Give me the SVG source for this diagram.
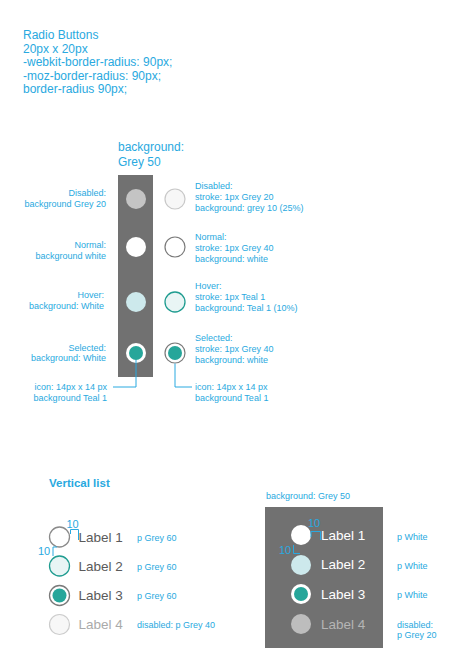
<svg xmlns="http://www.w3.org/2000/svg" width="468" height="668" viewBox="0 0 468 668">
<style>
text{font-family:"Liberation Sans",Arial,sans-serif;fill:#29a9e0}
.t12{font-size:12px}
.t9{font-size:9px}
.end{text-anchor:end}
.dim{font-size:11px}
.lbl{font-size:13.5px;fill:#5a5a5a}
.lblw{font-size:13.5px;fill:#ffffff}
.conn{fill:none;stroke:#29a9e0;stroke-width:1}
.panel{fill:#717171}
.teal{fill:#26a69a}
</style>
<rect width="468" height="668" fill="#ffffff"/>

<g id="title">
<text class="t12" x="23" y="39">Radio Buttons</text>
<text class="t12" x="23" y="52.5">20px x 20px</text>
<text class="t12" x="23" y="66">-webkit-border-radius: 90px;</text>
<text class="t12" x="23" y="79.5">-moz-border-radius: 90px;</text>
<text class="t12" x="23" y="93">border-radius 90px;</text>
</g>

<g id="column">
<text class="t12" x="118" y="151">background:</text>
<text class="t12" x="118" y="166">Grey 50</text>
<rect class="panel" x="118" y="175" width="35" height="202"/>
</g>

<g id="col-disabled">
<circle cx="136" cy="199" r="10" fill="#c4c4c4"/>
<text class="t9 end" x="106" y="196">Disabled:</text>
<text class="t9 end" x="106" y="207">background Grey 20</text>
</g>
<g id="col-normal">
<circle cx="136" cy="247" r="10" fill="#ffffff"/>
<text class="t9 end" x="106" y="248">Normal:</text>
<text class="t9 end" x="106" y="259">background white</text>
</g>
<g id="col-hover">
<circle cx="136" cy="302" r="10" fill="#cde9ec"/>
<text class="t9 end" x="104" y="298">Hover:</text>
<text class="t9 end" x="104" y="309">background: White</text>
</g>
<g id="col-selected">
<circle cx="136" cy="353" r="10" fill="#ffffff"/>
<circle class="teal" cx="136" cy="353" r="7"/>
<text class="t9 end" x="106" y="351">Selected:</text>
<text class="t9 end" x="106" y="361">background: White</text>
</g>
<g id="col-icon-note">
<text class="t9 end" x="107" y="390">icon: 14px x 14 px</text>
<text class="t9 end" x="107" y="400.5">background Teal 1</text>
</g>

<g id="r-disabled">
<circle cx="175" cy="199" r="10" fill="#f7f7f7" stroke="#c8c8c8" stroke-width="1.2"/>
<text class="t9" x="195" y="189">Disabled:</text>
<text class="t9" x="195" y="200">stroke: 1px Grey 20</text>
<text class="t9" x="195" y="211">background: grey 10 (25%)</text>
</g>
<g id="r-normal">
<circle cx="175" cy="247" r="10" fill="#ffffff" stroke="#7a7a7a" stroke-width="1.2"/>
<text class="t9" x="195" y="240">Normal:</text>
<text class="t9" x="195" y="251">stroke: 1px Grey 40</text>
<text class="t9" x="195" y="261.5">background: white</text>
</g>
<g id="r-hover">
<circle cx="175" cy="302" r="10" fill="#e9f5f5" stroke="#1f9c90" stroke-width="1.3"/>
<text class="t9" x="195" y="289">Hover:</text>
<text class="t9" x="195" y="300">stroke: 1px Teal 1</text>
<text class="t9" x="195" y="311">background: Teal 1 (10%)</text>
</g>
<g id="r-selected">
<circle cx="175" cy="353" r="10" fill="#ffffff" stroke="#7a7a7a" stroke-width="1.2"/>
<circle class="teal" cx="175" cy="353" r="7"/>
<text class="t9" x="195" y="341">Selected:</text>
<text class="t9" x="195" y="352">stroke: 1px Grey 40</text>
<text class="t9" x="195" y="362.5">background: white</text>
</g>
<g id="r-icon-note">
<text class="t9" x="195" y="390">icon: 14px x 14 px</text>
<text class="t9" x="195" y="400.5">background Teal 1</text>
</g>

<g id="vlist-title">
<text x="49" y="487" style="font-size:11.5px;font-weight:bold">Vertical list</text>
</g>

<g id="list-1">
<circle cx="59.5" cy="537" r="10" fill="#ffffff" stroke="#8a8a8a" stroke-width="1.3"/>
<text class="lbl" x="78.5" y="541.5">Label 1</text>
<text class="t9" x="137" y="540.5">p Grey 60</text>
</g>
<g id="list-2">
<circle cx="59.5" cy="566" r="10" fill="#e8f5f5" stroke="#1f9c90" stroke-width="1.3"/>
<text class="lbl" x="78.5" y="570.5">Label 2</text>
<text class="t9" x="137" y="569.5">p Grey 60</text>
</g>
<g id="list-3">
<circle cx="59.5" cy="595.5" r="10" fill="#ffffff" stroke="#7a7a7a" stroke-width="1.3"/>
<circle class="teal" cx="59.5" cy="595.5" r="7"/>
<text class="lbl" x="78.5" y="600">Label 3</text>
<text class="t9" x="137" y="599">p Grey 60</text>
</g>
<g id="list-4">
<circle cx="59.5" cy="624.5" r="10" fill="#f7f7f7" stroke="#cccccc" stroke-width="1.2"/>
<text class="lbl" x="78.5" y="629" style="fill:#aaaaaa">Label 4</text>
<text class="t9" x="137" y="628">disabled: p Grey 40</text>
</g>
<g id="list-dims">
<text class="dim" x="66.5" y="527.5">10</text>
<text class="dim" x="38" y="555">10</text>
</g>

<g id="panel">
<text class="t9" x="266" y="499">background: Grey 50</text>
<rect class="panel" x="265" y="507" width="118" height="141"/>
</g>
<g id="panel-1">
<circle cx="301" cy="535" r="10" fill="#ffffff"/>
<text class="lblw" x="321" y="540">Label 1</text>
<text class="t9" x="397" y="540">p White</text>
</g>
<g id="panel-2">
<circle cx="301" cy="565" r="10" fill="#cde9ec"/>
<text class="lblw" x="321" y="569">Label 2</text>
<text class="t9" x="397" y="569">p White</text>
</g>
<g id="panel-3">
<circle cx="301" cy="594" r="10" fill="#ffffff"/>
<circle class="teal" cx="301" cy="594" r="7"/>
<text class="lblw" x="321" y="598.5">Label 3</text>
<text class="t9" x="397" y="598">p White</text>
</g>
<g id="panel-4">
<circle cx="301" cy="624" r="10" fill="#bdbdbd"/>
<text class="lblw" x="321" y="628.5" style="fill:#b5b5b5">Label 4</text>
<text class="t9" x="397" y="627.5">disabled:</text>
<text class="t9" x="397" y="638">p Grey 20</text>
</g>
<g id="panel-dims">
<text class="dim" x="308" y="527">10</text>
<text class="dim" x="279" y="553.5">10</text>
</g>

<g id="connectors">
<path class="conn" d="M136 360 V387 H113"/>
<path class="conn" d="M175 363.5 V387 H192"/>
<path class="conn" d="M70.5 534 V529.5 H78.5 V540"/>
<path class="conn" d="M57 547 H53 V556"/>
<path class="conn" d="M311 537 V531.5 H320.5 V540"/>
<path class="conn" d="M293.5 545 V553.5 H300"/>
</g>
</svg>
